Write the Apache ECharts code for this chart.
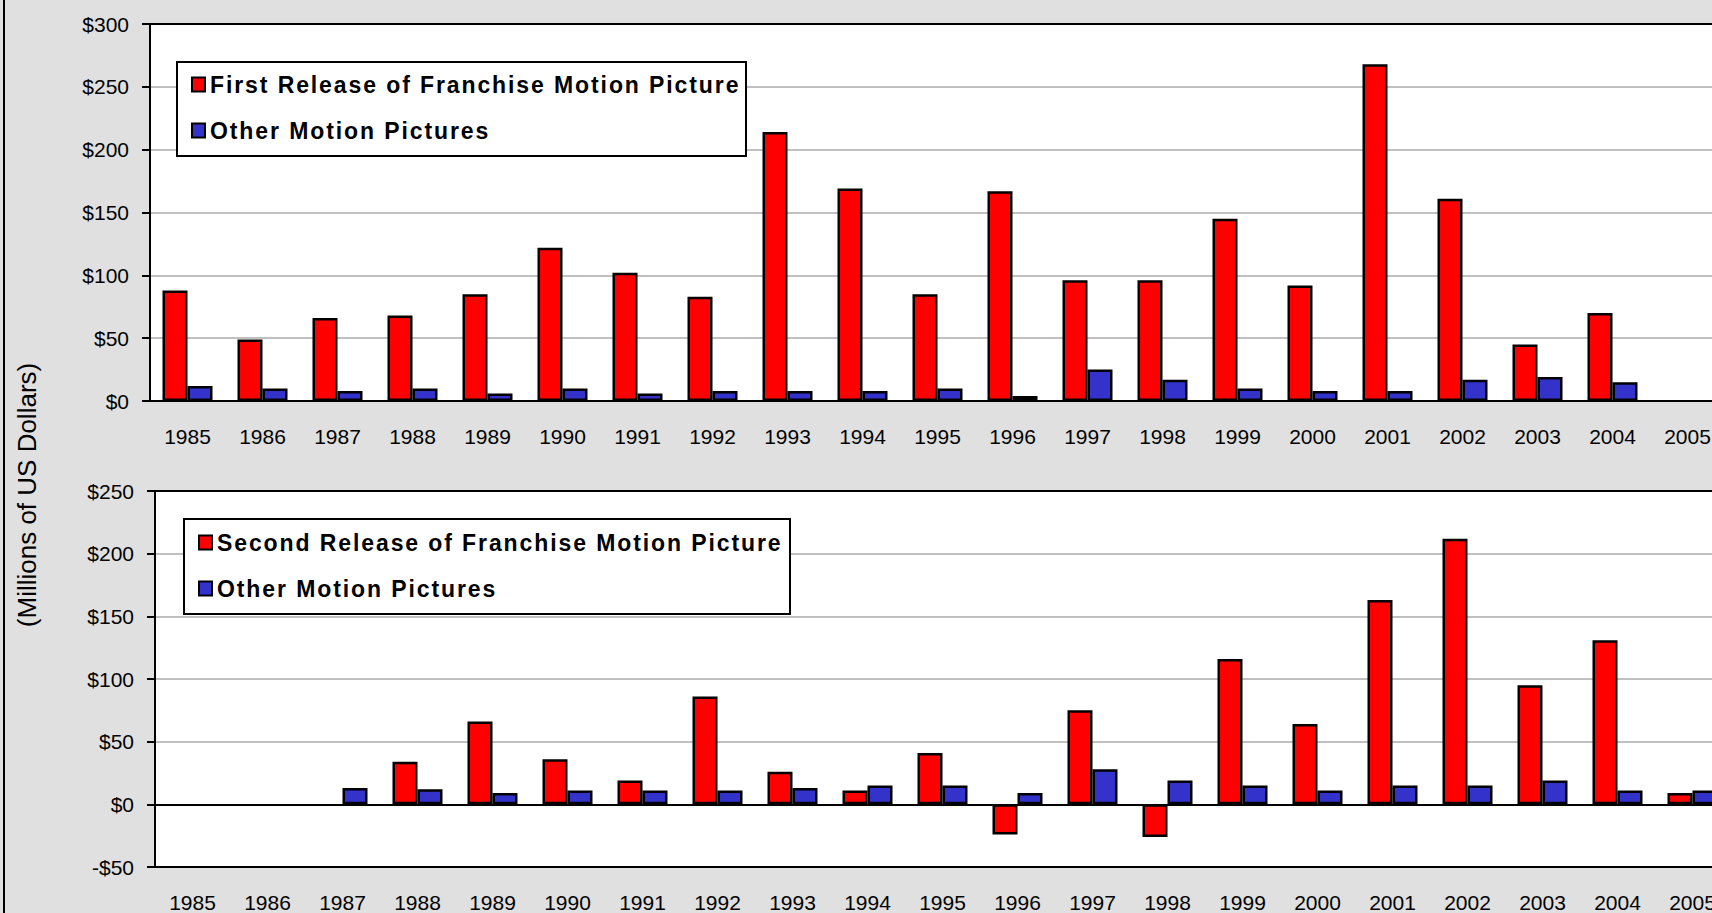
<!DOCTYPE html>
<html>
<head>
<meta charset="utf-8">
<title>Franchise Motion Pictures</title>
<script src="https://cdn.jsdelivr.net/npm/echarts@6/dist/echarts.min.js"></script>
<style>
    html, body { margin: 0; padding: 0; background: #e0e0e0; }
    #chart { width: 1712px; height: 913px; }
    /* Excel spreads the bold legend lettering out */
    #chart text[style*="bold"] { letter-spacing: 1.9px; }
</style>
</head>
<body>
<div id="chart"></div>
<script>
// 数据
const years = ['1985', '1986', '1987', '1988', '1989', '1990', '1991', '1992', '1993', '1994', '1995',
               '1996', '1997', '1998', '1999', '2000', '2001', '2002', '2003', '2004', '2005'];

const firstRelease = [88, 49, 66, 68, 85, 122, 102, 83, 214, 169, 85, 167, 96, 96, 145, 92, 268, 161, 45, 70, null];
const otherTop = [12, 10, 8, 10, 6, 10, 6, 8, 8, 8, 10, 4, 25, 17, 10, 8, 8, 17, 19, 15, null];

const secondRelease = [null, null, null, 34, 66, 36, 19, 86, 26, 11, 41, -24, 75, -26, 116, 64, 163, 212, 95, 131, 9];
const otherBottom = [null, null, 13, 12, 9, 11, 11, 11, 13, 15, 15, 9, 28, 19, 15, 11, 15, 15, 19, 11, 11];

const topTicks = { min: 0, max: 300, interval: 50 };
const bottomTicks = { min: -50, max: 250, interval: 50 };

const FONT = '"Liberation Sans", Arial, sans-serif';
const RED = '#ff0000';
const BLUE = '#3333cc';
const BLACK_LINE = { color: '#000', width: 2 };

function dollar(v) {
    return (v < 0 ? '-$' : '$') + Math.abs(v);
}

function gridBox(left, top, height) {
    return {
        left: left, top: top, width: 1575, height: height,
        show: true, backgroundColor: '#fff', borderColor: '#000', borderWidth: 2,
        outerBoundsMode: 'none'
    };
}

function valueAxis(gridIndex, ticks) {
    return {
        gridIndex: gridIndex, type: 'value',
        min: ticks.min, max: ticks.max, interval: ticks.interval,
        axisLine: { show: true, onZero: false, lineStyle: BLACK_LINE },
        axisTick: { show: true, length: 8, lineStyle: BLACK_LINE },
        axisLabel: { formatter: dollar, margin: 21, fontSize: 21, color: '#000' },
        splitLine: { show: true, showMinLine: false, showMaxLine: false, lineStyle: { color: '#c0c0c0', width: 2 } }
    };
}

const yearLabel = { interval: 0, margin: 25, fontSize: 21, color: '#000' };

function bars(name, data, color, axisIndex) {
    return {
        name: name, type: 'bar', data: data,
        xAxisIndex: axisIndex, yAxisIndex: axisIndex === 0 ? 0 : 1,
        barWidth: 25, barGap: '0%',
        itemStyle: { color: color, borderColor: '#000', borderWidth: 2.5 }
    };
}

function legendBlock(names, left, top) {
    return {
        data: names, orient: 'vertical', left: left, top: top, padding: 0,
        icon: 'rect', itemWidth: 13, itemHeight: 14, itemGap: 23,
        selectedMode: false, z: 10,
        itemStyle: { borderWidth: 2 },
        textStyle: { fontSize: 23, fontWeight: 'bold', color: '#000', lineHeight: 23 }
    };
}

const chart = echarts.init(document.getElementById('chart'), null, { renderer: 'svg' });

chart.setOption({
    backgroundColor: '#e0e0e0',
    animation: false,
    textStyle: { fontFamily: FONT },
    grid: [gridBox(150, 24, 377), gridBox(155, 491, 376)],
    xAxis: [
        {
            gridIndex: 0, type: 'category', data: years,
            axisLine: { lineStyle: BLACK_LINE },
            axisTick: { length: 9, lineStyle: BLACK_LINE },
            axisLabel: yearLabel
        },
        {
            // 零线上的轴（只画线和刻度）
            gridIndex: 1, type: 'category', data: years, position: 'bottom',
            axisLine: { onZero: true, lineStyle: BLACK_LINE },
            axisTick: { length: 9, lineStyle: BLACK_LINE },
            axisLabel: { show: false }
        },
        {
            // 底部的年份标签
            gridIndex: 1, type: 'category', data: years, position: 'bottom',
            axisLine: { show: false, onZero: false },
            axisTick: { show: false },
            axisLabel: yearLabel
        }
    ],
    yAxis: [valueAxis(0, topTicks), valueAxis(1, bottomTicks)],
    legend: [
        legendBlock(['First Release of Franchise Motion Picture', 'Other Motion Pictures'], 191, 73),
        legendBlock(['Second Release of Franchise Motion Picture', 'Other Motion Pictures'], 198, 531)
    ],
    series: [
        bars('First Release of Franchise Motion Picture', firstRelease, RED, 0),
        bars('Other Motion Pictures', otherTop, BLUE, 0),
        bars('Second Release of Franchise Motion Picture', secondRelease, RED, 1),
        bars('Other Motion Pictures', otherBottom, BLUE, 1)
    ],
    graphic: [
        { type: 'rect', shape: { x: 3, y: 0, width: 2, height: 913 }, style: { fill: '#000' } },
        { type: 'rect', z: 5, shape: { x: 177, y: 62, width: 569, height: 94 }, style: { fill: '#fff', stroke: '#000', lineWidth: 2 } },
        { type: 'rect', z: 5, shape: { x: 184, y: 519, width: 606, height: 95 }, style: { fill: '#fff', stroke: '#000', lineWidth: 2 } },
        {
            type: 'text', x: 27, y: 495, rotation: Math.PI / 2,
            style: {
                text: '(Millions of US Dollars)', fontSize: 26, fontFamily: FONT, fill: '#000',
                align: 'center', verticalAlign: 'middle', textAlign: 'center', textVerticalAlign: 'middle'
            }
        }
    ]
});
</script>
</body>
</html>
